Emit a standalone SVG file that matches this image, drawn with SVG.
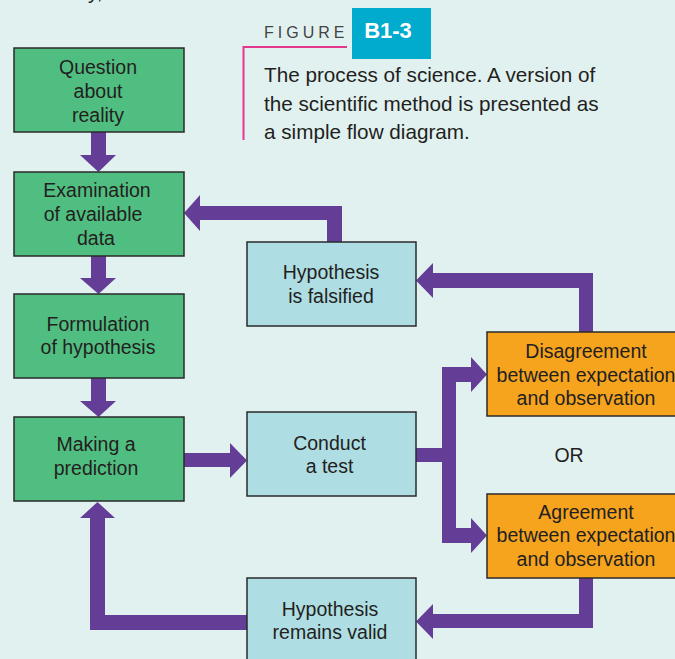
<svg xmlns="http://www.w3.org/2000/svg" width="675" height="659" viewBox="0 0 675 659">
<defs>
<style>
.bg{fill:#e1f1f0}
.box{stroke:#2a2a2a;stroke-width:1.5}
.g{fill:#50be80}
.b{fill:#aedde3}
.o{fill:#f6a31e}
.t{font-family:"Liberation Sans",Arial,sans-serif;font-size:19.5px;fill:#231f20;text-anchor:middle}
.arrow{fill:#643d97}
.cap{font-family:"Liberation Sans",Arial,sans-serif;font-size:20.7px;fill:#231f20}
</style>
</defs>
<rect class="bg" x="0" y="0" width="675" height="659"/>
<text class="cap" x="88" y="-1">y,</text>

<g id="figure-label">
<path d="M347,47 H243.5 V140" fill="none" stroke="#e5368d" stroke-width="2"/>
<text x="264" y="38" font-family="'Liberation Sans',Arial,sans-serif" font-size="16" letter-spacing="4" fill="#444">FIGURE</text>
<rect x="352" y="8" width="79" height="51" fill="#00abcd"/>
<text x="388" y="38" font-family="'Liberation Sans',Arial,sans-serif" font-size="22" font-weight="bold" fill="#fff" text-anchor="middle">B1-3</text>
<text class="cap" x="264" y="82">The process of science. A version of</text>
<text class="cap" x="264" y="111">the scientific method is presented as</text>
<text class="cap" x="264" y="139">a simple flow diagram.</text>
</g>

<g id="connectors">
<polygon class="arrow" points="91,132 106,132 106,155 116,155 98.5,172 80,155 91,155"/>
<polygon class="arrow" points="91,256 106,256 106,278 116,278 98.5,294 80,278 91,278"/>
<polygon class="arrow" points="91,378 106,378 106,401 116,401 98.5,417 80,401 91,401"/>
<polygon class="arrow" points="327,242 327,220 200,220 200,231 184,213 200,195 200,206 342,206 342,242"/>
<polygon class="arrow" points="184,453 230,453 230,443 247,460.5 230,478 230,467 184,467"/>
<polygon class="arrow" points="416,448 442,448 442,367 471,367 471,357 487,374.5 471,392 471,382 456,382 456,528 471,528 471,518 487,535.5 471,553 471,543 442,543 442,462 416,462"/>
<polygon class="arrow" points="579,332 579,288 433,288 433,298 416,280.5 433,263 433,273 593,273 593,332"/>
<polygon class="arrow" points="579,578 593,578 593,628 433,628 433,639 416,621.5 433,604 433,614 579,614"/>
<polygon class="arrow" points="247,615 105,615 105,518 115,518 97.5,502 80,518 90,518 90,630 247,630"/>
</g>

<g id="question">
<rect class="box g" x="14" y="48" width="170" height="84"/>
<text class="t" x="98" y="74">Question</text>
<text class="t" x="98" y="98">about</text>
<text class="t" x="98" y="122">reality</text>
</g>
<g id="examination">
<rect class="box g" x="14" y="172" width="170" height="84"/>
<text class="t" x="97" y="197">Examination</text>
<text class="t" x="93" y="221">of available</text>
<text class="t" x="96" y="245">data</text>
</g>
<g id="formulation">
<rect class="box g" x="14" y="294" width="170" height="84"/>
<text class="t" x="98" y="331">Formulation</text>
<text class="t" x="98" y="354">of hypothesis</text>
</g>
<g id="prediction">
<rect class="box g" x="14" y="417" width="170" height="84"/>
<text class="t" x="96" y="451">Making a</text>
<text class="t" x="96" y="475">prediction</text>
</g>
<g id="falsified">
<rect class="box b" x="247" y="242" width="169" height="84"/>
<text class="t" x="331" y="279">Hypothesis</text>
<text class="t" x="331" y="303">is falsified</text>
</g>
<g id="test">
<rect class="box b" x="247" y="412" width="169" height="84"/>
<text class="t" x="329.5" y="450">Conduct</text>
<text class="t" x="329.5" y="473">a test</text>
</g>
<g id="valid">
<rect class="box b" x="247" y="578" width="169" height="90"/>
<text class="t" x="330" y="616">Hypothesis</text>
<text class="t" x="330" y="639">remains valid</text>
</g>
<g id="disagreement">
<rect class="box o" x="487" y="332" width="200" height="84"/>
<text class="t" x="586" y="358">Disagreement</text>
<text class="t" x="586" y="382">between expectation</text>
<text class="t" x="586" y="405">and observation</text>
</g>
<g id="agreement">
<rect class="box o" x="487" y="494" width="200" height="84"/>
<text class="t" x="586" y="519">Agreement</text>
<text class="t" x="586" y="542">between expectation</text>
<text class="t" x="586" y="566">and observation</text>
</g>
<g id="or">
<text class="t" x="569" y="462">OR</text>
</g>
</svg>
